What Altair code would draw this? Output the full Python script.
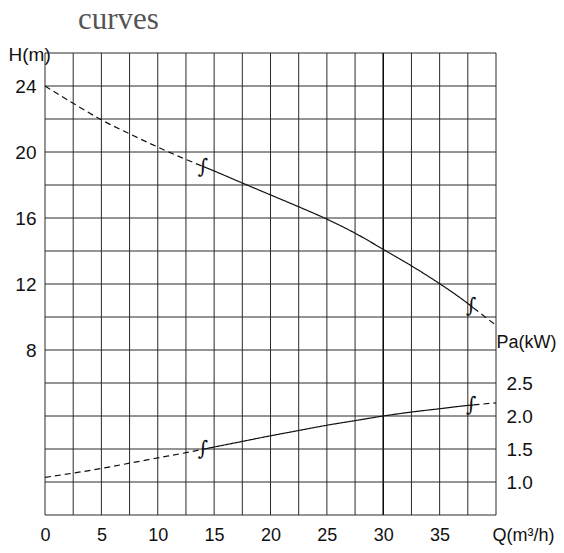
import altair as alt
import pandas as pd

# ---- data ----
Q_pts = [0, 2.5, 5, 7.5, 10, 12.5, 14, 15, 17.5, 20, 22.5, 25, 27.5, 30, 32.5, 35, 37.5, 38, 40]
H_pts = [24.0, 22.95, 21.95, 21.1, 20.3, 19.55, 19.13, 18.85, 18.12, 17.4, 16.68, 15.93, 15.08, 14.1, 13.1, 12.02, 10.82, 10.55, 9.5]
Pa_pts = [1.07, 1.135, 1.205, 1.285, 1.365, 1.445, 1.496, 1.53, 1.615, 1.70, 1.78, 1.86, 1.93, 2.0, 2.06, 2.11, 2.16, 2.168, 2.2]
solid_from, solid_to = 14, 38

Q_ticks = [0, 5, 10, 15, 20, 25, 30, 35]
H_ticks = [8, 12, 16, 20, 24]
Pa_ticks = [1.0, 1.5, 2.0, 2.5]
Q_grid = [i * 2.5 for i in range(17)]
Q_bold = [30]
H_grid = [-2 + 2 * i for i in range(15)]

H_marks_Q = [14.0, 37.8]
H_marks_H = [19.1, 10.65]
Pa_marks_Q = [14.0, 37.8]
Pa_marks_Pa = [1.5, 2.17]

# ---- build tables ----
def segments(qs, vs, name):
    rows = []
    for q, v in zip(qs, vs):
        if q <= solid_from:
            rows.append((q, v, name + "a", "dash"))
        if solid_from <= q <= solid_to:
            rows.append((q, v, name + "b", "solid"))
        if q >= solid_to:
            rows.append((q, v, name + "c", "dash"))
    return rows

h_df = pd.DataFrame(segments(Q_pts, H_pts, "H"), columns=["Q", "H", "seg", "style"])
pa_df = pd.DataFrame(segments(Q_pts, Pa_pts, "P"), columns=["Q", "Pa", "seg", "style"])
qgrid_df = pd.DataFrame({"Q": Q_grid})
qbold_df = pd.DataFrame({"Q": Q_bold})
hgrid_df = pd.DataFrame({"H": H_grid})
hmk_df = pd.DataFrame({"Q": H_marks_Q, "H": H_marks_H, "t": ["∫"] * 2})
pmk_df = pd.DataFrame({"Q": Pa_marks_Q, "Pa": Pa_marks_Pa, "t": ["∫"] * 2})

xscale = alt.Scale(domain=[0, 40], nice=False, zero=False)
hscale = alt.Scale(domain=[-2, 26], nice=False, zero=False)
pscale = alt.Scale(domain=[0.5, 7.5], nice=False, zero=False)

FS = 19
xaxis = alt.Axis(values=Q_ticks, grid=False, ticks=False, domain=False, labelFlush=False,
                 labelPadding=11, labelFontSize=18, title="Q(m³/h)",
                 titleAngle=0, titleX=478, titleY=20, titleAlign="center",
                 titleBaseline="middle", titleFontSize=18, titleFontWeight="normal")
haxis = alt.Axis(values=H_ticks, grid=False, ticks=False, domain=False, labelFlush=False,
                 labelPadding=9, labelFontSize=FS, title="H(m)",
                 titleAngle=0, titleX=-37, titleY=1, titleAlign="left",
                 titleBaseline="middle", titleFontSize=FS, titleFontWeight="normal")
paxis = alt.Axis(values=Pa_ticks, format=".1f", orient="right", grid=False, labelFlush=False,
                 ticks=False, domain=False, labelPadding=10, labelFontSize=FS,
                 labelAlign="left", title="Pa(kW)", titleAngle=0, titleX=0,
                 titleY=289, titleAlign="left", titleBaseline="middle",
                 titleFontSize=18, titleFontWeight="normal")

X = alt.X("Q:Q", scale=xscale, axis=xaxis)
dash_enc = alt.StrokeDash("style:N", scale=alt.Scale(domain=["solid", "dash"], range=[[1, 0], [6, 4]]), legend=None)

vgrid = alt.Chart(qgrid_df).mark_rule(color="#2a2a2a", strokeWidth=1).encode(x=X)
vbold = alt.Chart(qbold_df).mark_rule(color="#000", strokeWidth=1.3).encode(x=X)
hgrid = alt.Chart(hgrid_df).mark_rule(color="#2a2a2a", strokeWidth=1).encode(
    y=alt.Y("H:Q", scale=hscale, axis=haxis))
hline = alt.Chart(h_df).mark_line(color="#111", strokeWidth=1.2, interpolate="monotone").encode(
    x=X, y=alt.Y("H:Q", scale=hscale, axis=haxis), detail="seg:N", strokeDash=dash_enc)
hmk = alt.Chart(hmk_df).mark_text(font="DejaVu Serif", fontSize=20, fontStyle="italic", color="#111").encode(
    x=X, y=alt.Y("H:Q", scale=hscale, axis=haxis), text="t:N")

pline = alt.Chart(pa_df).mark_line(color="#111", strokeWidth=1.2, interpolate="monotone").encode(
    x=X, y=alt.Y("Pa:Q", scale=pscale, axis=paxis), detail="seg:N", strokeDash=dash_enc)
pmk = alt.Chart(pmk_df).mark_text(font="DejaVu Serif", fontSize=20, fontStyle="italic", color="#111").encode(
    x=X, y=alt.Y("Pa:Q", scale=pscale, axis=paxis), text="t:N")

h_layer = alt.layer(vgrid, vbold, hgrid, hline, hmk)
p_layer = alt.layer(pline, pmk)

chart = alt.layer(h_layer, p_layer).resolve_scale(y="independent").properties(
    width=451, height=462,
    autosize=alt.AutoSizeParams(type="none"),
    padding={"left": 37, "top": 45, "right": 60, "bottom": 30},
    title=alt.TitleParams("curves", anchor="start", font="Liberation Serif", fontSize=31,
                          fontWeight="normal", color="#555", dx=70, dy=-5),
).configure_view(stroke=None).configure_axis(
    labelFont="Liberation Sans", titleFont="Liberation Sans", labelColor="#111", titleColor="#111"
)

chart.save("out.html", embed_options={"renderer": "svg", "actions": False})
